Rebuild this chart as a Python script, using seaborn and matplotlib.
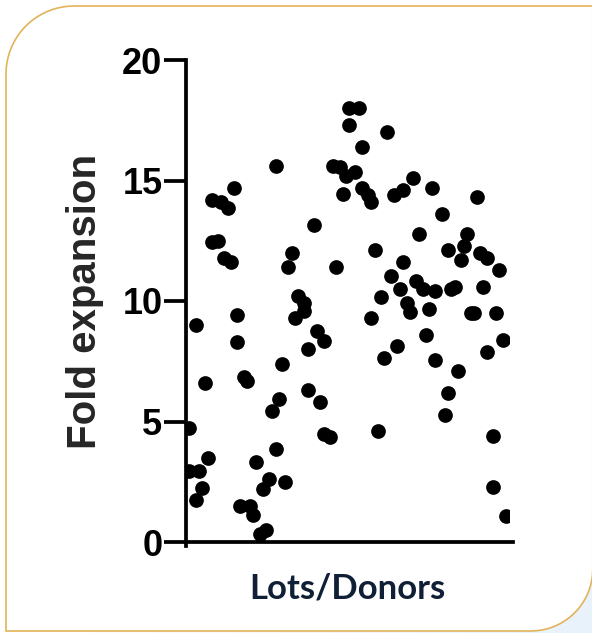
import numpy as np
import pandas as pd
import matplotlib
matplotlib.use('Agg')
import matplotlib.pyplot as plt
from matplotlib.patches import PathPatch
from matplotlib.path import Path
from matplotlib.transforms import IdentityTransform
import seaborn as sns

# values (lot index, fold expansion)
lots = [1, 1, 3, 3, 4, 5, 6, 7, 8, 8,
        10, 11, 12, 13, 14, 15, 16, 16, 17, 18,
        19, 20, 21, 22, 23, 24, 25, 26, 27, 28,
        28, 29, 30, 31, 32, 33, 34, 35, 37, 37,
        38, 38, 40, 41, 42, 43, 43, 45, 46, 47,
        48, 49, 50, 51, 51, 53, 54, 55, 55, 57,
        58, 58, 59, 60, 61, 62, 63, 64, 65, 66,
        67, 68, 68, 69, 70, 71, 72, 73, 74, 75,
        76, 77, 78, 78, 80, 81, 82, 82, 83, 84,
        85, 86, 87, 88, 89, 90, 91, 92, 93, 94,
        94, 96, 96, 97, 98, 99, 100]
fold = [2.95, 4.75, 1.75, 9.0, 2.95, 2.25, 6.6, 3.5, 12.45, 14.2,
        12.5, 14.1, 11.8, 13.85, 11.6, 14.7, 8.3, 9.4, 1.5, 6.85,
        6.7, 1.5, 1.1, 3.3, 0.33, 2.2, 0.5, 2.6, 5.45, 15.6,
        3.85, 5.95, 7.4, 2.5, 11.4, 12.0, 9.3, 10.2, 9.9, 9.6,
        6.3, 8.0, 13.15, 8.75, 5.8, 4.5, 8.35, 4.35, 15.6, 11.4,
        15.55, 14.45, 15.2, 18.0, 17.3, 15.35, 18.0, 16.4, 14.7, 14.4,
        14.1, 9.3, 12.1, 4.6, 10.15, 7.65, 17.0, 11.05, 14.4, 8.15,
        10.5, 14.6, 11.6, 9.9, 9.55, 15.1, 10.85, 12.8, 10.5, 8.6,
        9.65, 14.7, 10.4, 7.55, 13.6, 5.25, 6.2, 12.1, 10.5, 10.6,
        7.1, 11.7, 12.3, 12.8, 9.5, 9.5, 14.3, 12.0, 10.6, 11.8,
        7.9, 2.3, 4.4, 9.5, 11.3, 8.4, 1.07]
y_ticks = [0, 5, 10, 15, 20]

df = pd.DataFrame({'lot': lots, 'fold': fold})

sns.set_style('ticks')
plt.rcParams['font.family'] = ['Liberation Sans', 'DejaVu Sans']

W, H = 592, 633
fig = plt.figure(figsize=(W / 100, H / 100), dpi=100, facecolor='white')

# pale blue wash towards the bottom right corner, white top left
gx, gy = np.meshgrid(np.linspace(0, 1, W), np.linspace(0, 1, H))
t = np.clip((gx + gy - 1.0), 0, 1)[..., None]
bg = (1 - t) * np.array([1.0, 1.0, 1.0]) + t * np.array([0.91, 0.95, 0.985])
fig.figimage(bg, 0, 0, zorder=-20)

# frame: rounded top-left and bottom-right corners (pixel coords, y up);
# right edge sits just off the canvas so only the corner curve shows
r1, r2 = 68, 62
left, right, top, bottom = 6, 592.8, H - 6, 2
a1 = np.linspace(np.pi, np.pi / 2, 20)
a2 = np.linspace(0, -np.pi / 2, 20)
pts = [(left, bottom), (left, top - r1)]
pts += list(zip(left + r1 + r1 * np.cos(a1), top - r1 + r1 * np.sin(a1)))
pts += [(right, top), (right, bottom + r2)]
pts += list(zip(right - r2 + r2 * np.cos(a2), bottom + r2 + r2 * np.sin(a2)))
pts += [(left, bottom), (left, bottom)]
codes = [Path.MOVETO] + [Path.LINETO] * (len(pts) - 2) + [Path.CLOSEPOLY]
frame = PathPatch(Path(pts, codes), transform=IdentityTransform(),
                  facecolor='white', edgecolor='#e3b35a', linewidth=1.2, zorder=-10)
fig.patches.append(frame)

ax = fig.add_axes([186 / W, 1 - 542 / H, 323 / W, 482 / H])
ax.set_facecolor('none')
sns.scatterplot(data=df, x='lot', y='fold', ax=ax, color='black',
                s=112, edgecolor='black', linewidth=0, legend=False)

ax.set_xlim(0, 101)
ax.set_ylim(0, 20)
ax.set_yticks(y_ticks)
ax.set_xticks([])
for side in ['top', 'right']:
    ax.spines[side].set_visible(False)
for side in ['left', 'bottom']:
    ax.spines[side].set_linewidth(2.7)
    ax.spines[side].set_color('black')
ax.spines['bottom'].set_bounds(0, 102.2)
ax.spines['left'].set_bounds(-0.15, 20)
ax.tick_params(axis='y', length=16, width=2.7, pad=1, labelsize=26, colors='black')
for lbl in ax.get_yticklabels():
    lbl.set_fontweight('bold')

ax.set_ylabel('Fold expansion', fontsize=29, fontweight='bold', labelpad=13)
ax.set_xlabel('Lots/Donors', fontsize=25, fontweight='bold', color='#0f1f35',
              family=['Lato', 'DejaVu Sans'], labelpad=22)

fig.savefig('out.png', dpi=100, facecolor=fig.get_facecolor())
